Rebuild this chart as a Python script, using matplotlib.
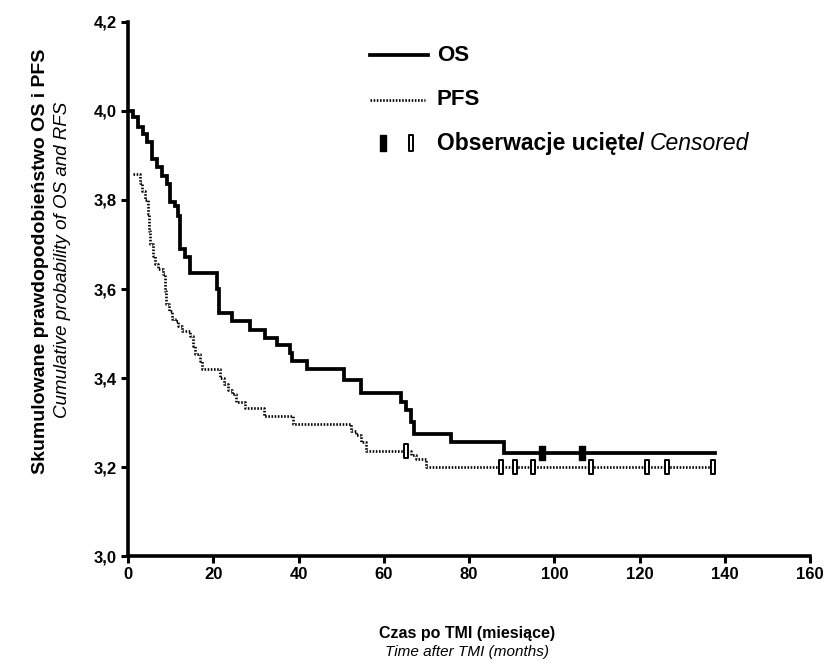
import numpy as np
import matplotlib
matplotlib.use("Agg")
import matplotlib.pyplot as plt
from matplotlib.path import Path

plt.rcParams['font.family'] = ['Liberation Sans', 'DejaVu Sans']

# OS: czasy zdarzen (miesiace) i poziomy krzywej
os_time = [0, 1.25, 2.4, 3.4, 4.4, 5.6, 6.7, 7.9, 9.1, 9.9, 11.1, 11.8, 12.2, 13.4,
           14.6, 20.9, 21.3, 24.4, 28.7, 32.2, 35.0, 38.1, 38.5, 42.0, 50.7, 54.6,
           64.0, 65.2, 66.4, 67.1, 75.8, 88.3, 137.7]
os_surv = [4.0, 3.986, 3.964, 3.949, 3.930, 3.893, 3.874, 3.855, 3.836, 3.795, 3.787,
           3.765, 3.690, 3.671, 3.637, 3.600, 3.547, 3.528, 3.508, 3.489, 3.475, 3.456,
           3.438, 3.421, 3.396, 3.366, 3.347, 3.329, 3.302, 3.274, 3.257, 3.232, 3.232]
os_censored = [97.1, 106.4]

# PFS
pfs_time = [1.2, 2.8, 3.3, 4.0, 4.7, 4.9, 5.2, 5.9, 6.4, 7.1, 8.2, 8.7, 8.9, 9.6, 10.4,
            11.1, 11.8, 12.7, 14.6, 15.3, 15.8, 16.9, 17.4, 21.6, 22.6, 23.5, 24.5,
            25.4, 27.5, 31.8, 38.8, 52.2, 53.4, 54.6, 55.8, 66.4, 67.5, 69.9, 137.3]
pfs_surv = [3.859, 3.839, 3.821, 3.799, 3.769, 3.731, 3.702, 3.674, 3.656, 3.645, 3.634,
            3.596, 3.566, 3.550, 3.532, 3.528, 3.517, 3.505, 3.494, 3.471, 3.453, 3.438,
            3.420, 3.400, 3.386, 3.374, 3.363, 3.347, 3.332, 3.314, 3.296, 3.280, 3.273,
            3.257, 3.235, 3.228, 3.217, 3.200, 3.200]
pfs_censored = [65.2, 87.6, 90.7, 94.9, 108.5, 121.8, 126.5, 137.2]

x_ticks = [0, 20, 40, 60, 80, 100, 120, 140, 160]
y_ticks = [3.0, 3.2, 3.4, 3.6, 3.8, 4.0, 4.2]
y_labels = ['3,0', '3,2', '3,4', '3,6', '3,8', '4,0', '4,2']


def level_at(times, surv, t):
    i = np.searchsorted(times, t, side='right') - 1
    return surv[i]


# waski prostokat jako znacznik obserwacji ucietej
bar_marker = Path([(-0.42, -1), (0.42, -1), (0.42, 1), (-0.42, 1), (-0.42, -1)],
                  [Path.MOVETO, Path.LINETO, Path.LINETO, Path.LINETO, Path.CLOSEPOLY])
box_marker = Path([(-0.32, -1), (0.32, -1), (0.32, 1), (-0.32, 1), (-0.32, -1)],
                  [Path.MOVETO, Path.LINETO, Path.LINETO, Path.LINETO, Path.CLOSEPOLY])

fig = plt.figure(figsize=(8.28, 6.70), dpi=100)
ax = fig.add_axes([0.1546, 0.1701, 0.8237, 0.7971])

ax.step(os_time, os_surv, where='post', color='black', lw=2.7, solid_joinstyle='miter')
ax.step(pfs_time, pfs_surv, where='post', color='black', lw=1.9,
        linestyle=(0, (0.6, 0.6)))

ax.plot(os_censored, [level_at(os_time, os_surv, t) for t in os_censored],
        linestyle='none', marker=bar_marker, markersize=10, color='black')
ax.plot(pfs_censored, [level_at(pfs_time, pfs_surv, t) for t in pfs_censored],
        linestyle='none', marker=box_marker, markersize=10, markerfacecolor='white',
        markeredgecolor='black', markeredgewidth=1.4)

ax.set_xlim(0, 160)
ax.set_ylim(3.0, 4.2)
ax.set_xticks(x_ticks)
ax.set_yticks(y_ticks)
ax.set_yticklabels(y_labels)
for s in ['top', 'right']:
    ax.spines[s].set_visible(False)
for s in ['left', 'bottom']:
    ax.spines[s].set_linewidth(2.6)
ax.tick_params(direction='out', length=5, width=2.2, labelsize=12, pad=3)
for lab in ax.get_xticklabels() + ax.get_yticklabels():
    lab.set_fontweight('bold')

# legenda
tr = ax.transAxes
ax.plot([0.355, 0.44], [0.938, 0.938], transform=tr, color='black', lw=2.7, clip_on=False)
ax.text(0.453, 0.938, 'OS', transform=tr, fontsize=16, fontweight='bold', va='center')
ax.plot([0.355, 0.435], [0.854, 0.854], transform=tr, color='black', lw=1.9,
        linestyle=(0, (0.6, 0.6)), clip_on=False)
ax.text(0.453, 0.854, 'PFS', transform=tr, fontsize=16, fontweight='bold', va='center')
ax.plot([0.374], [0.773], transform=tr, marker=bar_marker, markersize=11,
        color='black', clip_on=False)
ax.plot([0.415], [0.773], transform=tr, marker=box_marker, markersize=11,
        markerfacecolor='white', markeredgecolor='black', markeredgewidth=1.4,
        clip_on=False)
t1 = ax.text(0.453, 0.773, 'Obserwacje ucięte/', transform=tr, fontsize=16.5,
             fontweight='bold', va='center')
ax.annotate('Censored', xy=(1, 0.5), xycoords=t1, xytext=(4, 0),
            textcoords='offset points', va='center', fontsize=16.5, style='italic')

# opisy osi
fig.text(0.049, 0.61, 'Skumulowane prawdopodobieństwo OS i PFS', rotation=90,
         ha='center', va='center', fontsize=14, fontweight='bold')
fig.text(0.076, 0.612, 'Cumulative probability of OS and RFS', rotation=90,
         ha='center', va='center', fontsize=13.5, style='italic')
fig.text(0.564, 0.054, 'Czas po TMI (miesiące)', ha='center', va='center',
         fontsize=11.5, fontweight='bold')
fig.text(0.564, 0.027, 'Time after TMI (months)', ha='center', va='center',
         fontsize=11, style='italic')

fig.savefig('out.png', dpi=100)
